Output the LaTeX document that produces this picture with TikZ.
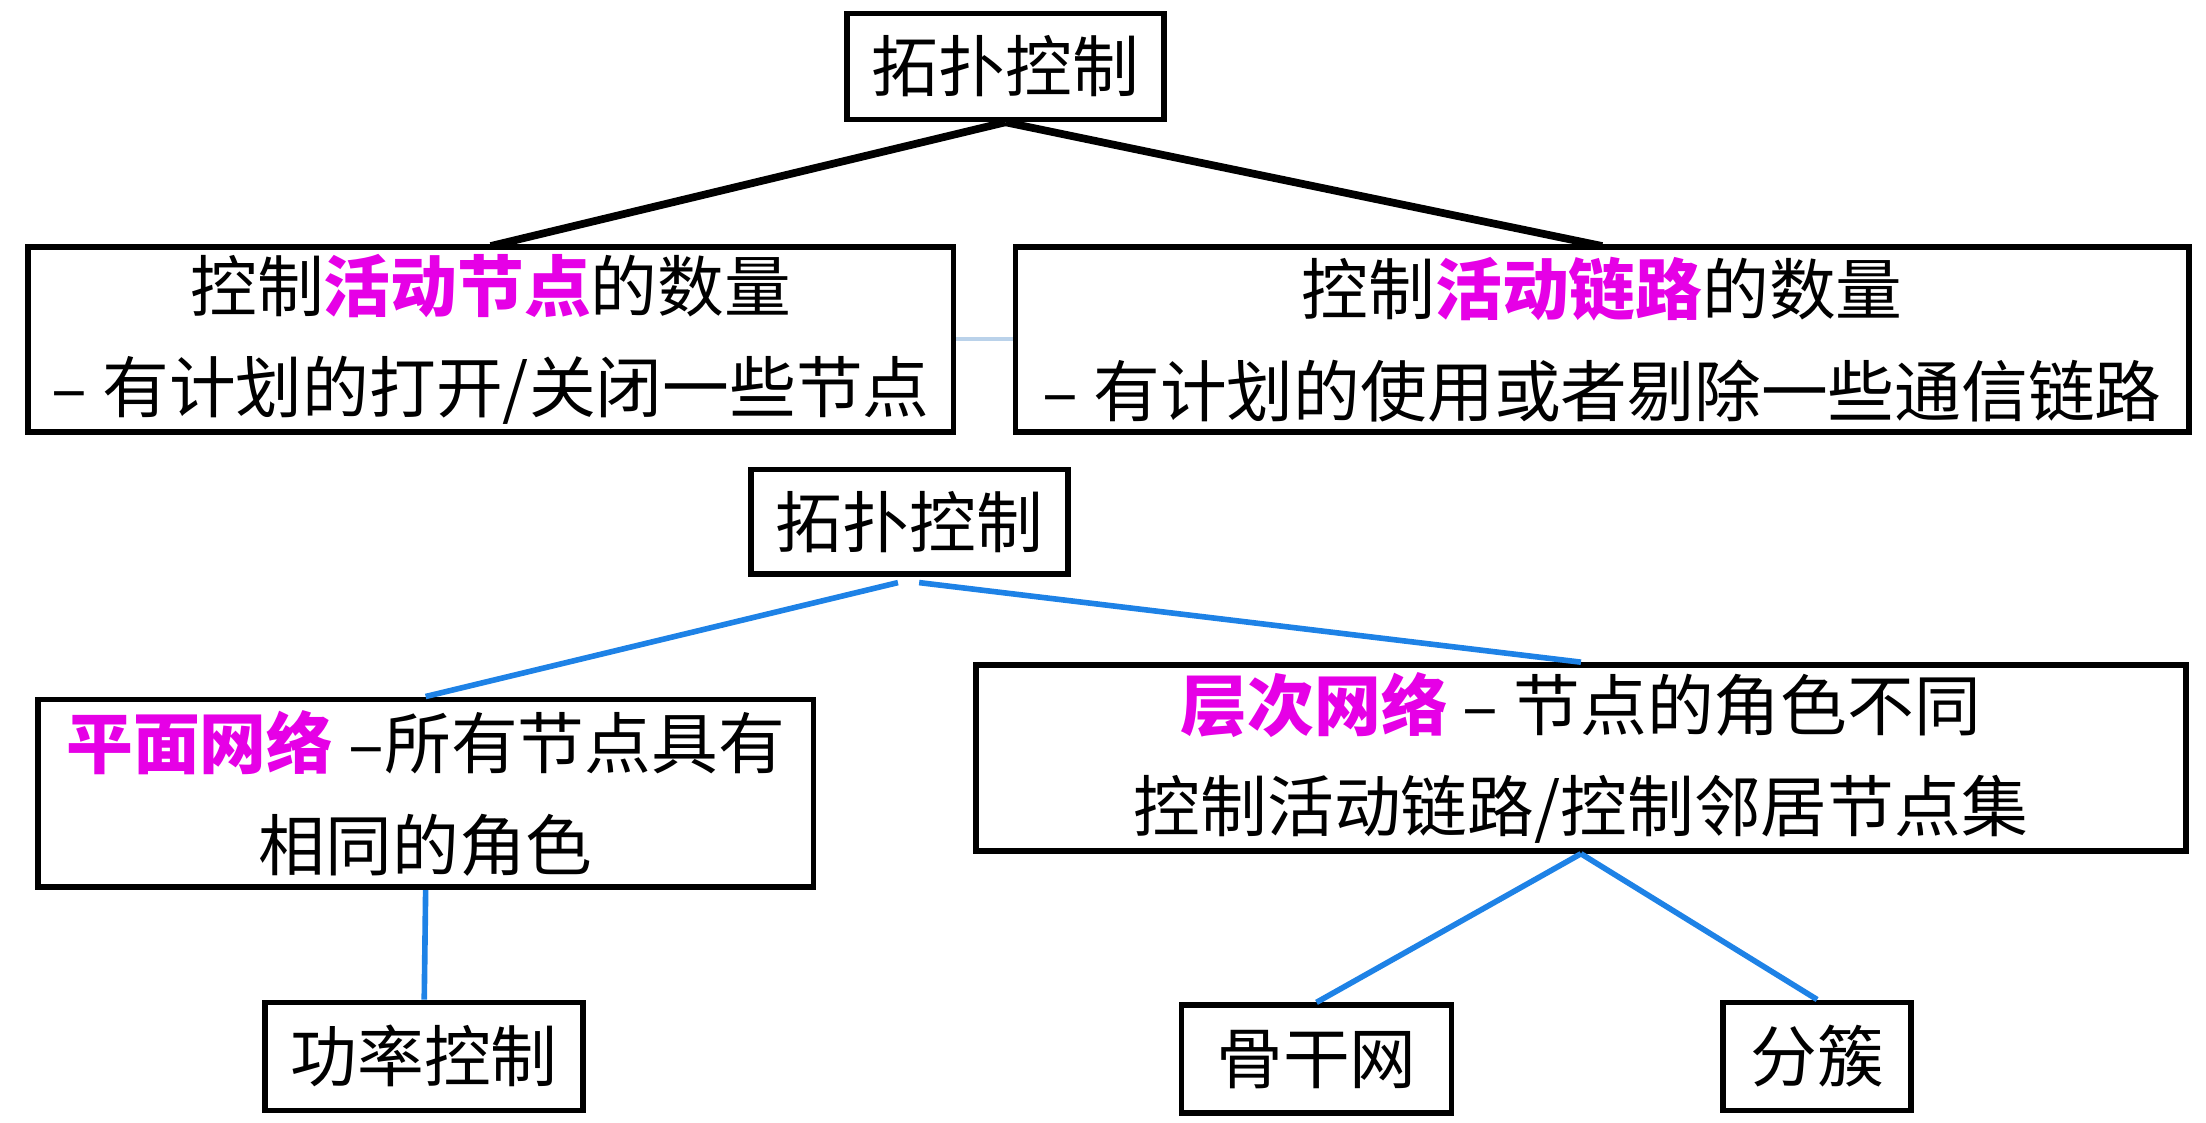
\documentclass[tikz,border=0pt]{standalone}
\usepackage{fontspec}
\setmainfont{Noto Sans CJK SC}
\definecolor{hot}{RGB}{230,0,230}
\definecolor{link}{RGB}{30,130,230}
\tikzset{box/.style={draw, line width=1.6pt, align=center, inner sep=0pt, font=\fontsize{19}{29}\selectfont}}
\newcommand{\hot}[1]{\textcolor{hot}{\bfseries #1}}
\begin{document}
\begin{tikzpicture}[x=0.01414cm, y=-0.01414cm]
\useasboundingbox (0,0) rectangle (1560,794);
\path (711,47) node[box, minimum width=3.17cm, minimum height=1.06cm] (t0) {拓扑控制}
      (347,240) node[box, minimum width=9.26cm, minimum height=1.85cm] (t1) {控制\hot{活动节点}的数量\\– 有计划的打开/关闭一些节点}
      (1133,240) node[box, minimum width=11.74cm, minimum height=1.85cm] (t2) {控制\hot{活动链路}的数量\\– 有计划的使用或者剔除一些通信链路}
      (643,369) node[box, minimum width=3.17cm, minimum height=1.05cm] (m0) {拓扑控制}
      (301,561) node[box, minimum width=7.76cm, minimum height=1.88cm] (m1) {\hot{平面网络} –所有节点具有\\相同的角色}
      (1118,536) node[box, minimum width=12.1cm, minimum height=1.86cm] (m2) {\hot{层次网络} – 节点的角色不同\\控制活动链路/控制邻居节点集}
      (300,747) node[box, minimum width=3.18cm, minimum height=1.08cm] (p) {功率控制}
      (931,749) node[box, minimum width=2.7cm, minimum height=1.08cm] (b) {骨干网}
      (1285,747) node[box, minimum width=1.88cm, minimum height=1.08cm] (c) {分簇};
\draw[line width=2.2pt] (t0.south) -- (347,174) coordinate (a1);
\draw[line width=2.2pt] (t0.south) -- (1133,174) coordinate (a2);
\draw[line width=1.2pt, black!20!link!30] (t1.east) -- (t2.west);
\draw[link, line width=1.6pt] (635,412) coordinate (s1) -- (m1.north);
\draw[link, line width=1.6pt] (650,412) coordinate (s2) -- (m2.north);
\draw[link, line width=1.6pt] (m1.south) -- (p.north);
\draw[link, line width=1.6pt] (m2.south) -- (b.north);
\draw[link, line width=1.6pt] (m2.south) -- (c.north);
\end{tikzpicture}
\end{document}
